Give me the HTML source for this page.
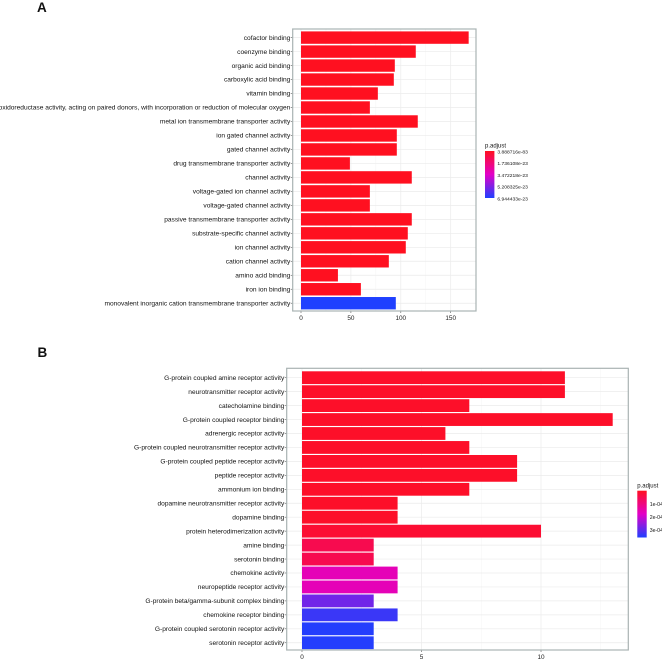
<!DOCTYPE html>
<html><head><meta charset="utf-8"><title>GO enrichment bar charts</title>
<style>
html,body{margin:0;padding:0;background:#fff;width:662px;height:659px;overflow:hidden}
svg{display:block;font-family:"Liberation Sans",Arial,sans-serif}
svg text{filter:blur(0.2px)}
</style></head>
<body>
<svg id="chart" width="662" height="659" viewBox="0 0 662 659" xmlns="http://www.w3.org/2000/svg"></svg>
<script>
const categoriesA = ["cofactor binding","coenzyme binding","organic acid binding","carboxylic acid binding","vitamin binding","oxidoreductase activity, acting on paired donors, with incorporation or reduction of molecular oxygen","metal ion transmembrane transporter activity","ion gated channel activity","gated channel activity","drug transmembrane transporter activity","channel activity","voltage-gated ion channel activity","voltage-gated channel activity","passive transmembrane transporter activity","substrate-specific channel activity","ion channel activity","cation channel activity","amino acid binding","iron ion binding","monovalent inorganic cation transmembrane transporter activity"];
const countsA = [168,115,94,93,77,69,117,96,96,49,111,69,69,111,107,105,88,37,60,95];
const padjustA = [0,0,0,0,0,0,0,0,0,0,0,0,0,0,0,0,0,0,0,6.94e-23];
const ticksA = [0,50,100,150];
const minorTicksA = [25,75,125];
const legendValuesA = [3.89e-83,1.736e-23,3.472e-23,5.208e-23,6.944e-23];
const legendLabelsA = ["3.888716e-83","1.736108e-23","3.472218e-23","5.208325e-23","6.944433e-23"];

const categoriesB = ["G-protein coupled amine receptor activity","neurotransmitter receptor activity","catecholamine binding","G-protein coupled receptor binding","adrenergic receptor activity","G-protein coupled neurotransmitter receptor activity","G-protein coupled peptide receptor activity","peptide receptor activity","ammonium ion binding","dopamine neurotransmitter receptor activity","dopamine binding","protein heterodimerization activity","amine binding","serotonin binding","chemokine activity","neuropeptide receptor activity","G-protein beta/gamma-subunit complex binding","chemokine receptor binding","G-protein coupled serotonin receptor activity","serotonin receptor activity"];
const countsB = [11,11,7,13,6,7,9,9,7,4,4,10,3,3,4,4,3,4,3,3];
const padjustB = [0.00001,0.00001,0.00001,0.00001,0.00001,0.00001,0.00001,0.00001,0.00001,0.00001,0.00001,0.00002,0.00005,0.00005,0.00016,0.00016,0.00028,0.00033,0.00035,0.00035];
const ticksB = [0,5,10];
const minorTicksB = [2.5,7.5,12.5];
const legendValuesB = [0.0001,0.0002,0.0003];
const legendLabelsB = ["1e-04","2e-04","3e-04"];

const svg = document.getElementById('chart');
const NS = 'http://www.w3.org/2000/svg';
function mk(tag, attrs, text){
  const e = document.createElementNS(NS, tag);
  for (const k in attrs) e.setAttribute(k, attrs[k]);
  if (text !== undefined) e.textContent = text;
  svg.appendChild(e);
  return e;
}
function fillFor(t){
  const a=[255,16,32], b=[226,0,200], c=[31,64,255];
  t=Math.max(0,Math.min(1,t));
  const p=t<0.5?a:b, q=t<0.5?b:c, u=t<0.5?t*2:(t-0.5)*2;
  return 'rgb('+p.map((v,i)=>Math.round(v+(q[i]-v)*u)).join(',')+')';
}
const defs = document.createElementNS(NS,'defs');
defs.innerHTML = '<linearGradient id="lg" x1="0" y1="0" x2="0" y2="1"><stop offset="0" stop-color="#ff1020"/><stop offset="0.5" stop-color="#e200c8"/><stop offset="1" stop-color="#1f40ff"/></linearGradient>';
svg.appendChild(defs);

function panel(o){
  const x = v => o.x0 + v*o.xs;
  const y = i => o.y0 + i*o.ys;
  const lo = o.pmin, hi = o.pmax;
  const bg = mk('rect',{x:o.l,y:o.t,width:o.r-o.l,height:o.b-o.t,fill:'#fff'});
  
  
  o.minor.forEach(v=>{
    const g = mk('line',{x1:x(v),x2:x(v),y1:o.t,y2:o.b,stroke:'#f4f4f4','stroke-width':0.5});
    
    
  });
  o.ticks.forEach(v=>{
    const g = mk('line',{x1:x(v),x2:x(v),y1:o.t,y2:o.b,stroke:'#ebebeb','stroke-width':0.7});
    
    
  });
  o.cats.forEach((c,i)=>{
    const g = mk('line',{x1:o.l,x2:o.r,y1:y(i),y2:y(i),stroke:'#ebebeb','stroke-width':0.7});
    
    
    const bar = mk('rect',{x:x(0),y:y(i)-o.bh/2,width:o.vals[i]*o.xs,height:o.bh,fill:fillFor((o.p[i]-lo)/(hi-lo))});
    
    
    const tick = mk('line',{x1:o.l-2,x2:o.l,y1:y(i),y2:y(i),stroke:'#555','stroke-width':0.6});
    
    
    const lab = mk('text',{x:o.l-2.4,y:y(i)+2.2,'text-anchor':'end','font-size':o.fs,fill:'#111'},c);
    
    
  });
  o.ticks.forEach(v=>{
    const t = mk('line',{x1:x(v),x2:x(v),y1:o.b,y2:o.b+2,stroke:'#555','stroke-width':0.6});
    
    
    const lab = mk('text',{x:x(v),y:o.b+8.8,'text-anchor':'middle','font-size':6.4,fill:'#222'},v);
    
    
  });
  const border = mk('rect',{x:o.l,y:o.t,width:o.r-o.l,height:o.b-o.t,fill:'none',stroke:'#a9b3b3','stroke-width':1.2});
  
  
  const letter = mk('text',{x:o.lx,y:o.ly,'font-size':13.5,'font-weight':'bold',fill:'#111'},o.letter);
  
  
  const lt = mk('text',{x:o.lgx,y:o.lgt-3.4,'font-size':6,fill:'#111'},'p.adjust');
  
  
  const lb = mk('rect',{x:o.lgx,y:o.lgt,width:9.4,height:o.lgb-o.lgt,fill:'url(#lg)'});
  
  
  o.legV.forEach((v,i)=>{
    const ly = o.lgt + (v-lo)/(hi-lo)*(o.lgb-o.lgt);
    const t = mk('text',{x:o.lgx+12.4,y:ly+o.ldy,'font-size':o.lfs,fill:'#111'},o.legL[i]);
    
    
  });
}
panel({id:'panel-a',letter:'A',lx:37,ly:12,l:292.7,r:476,t:29,b:311,x0:301,xs:0.998,y0:37.6,ys:13.98,bh:12.4,fs:6.6,lfs:4.95,ldy:2.4,
  cats:categoriesA,vals:countsA,p:padjustA,pmin:0,pmax:6.944433e-23,ticks:ticksA,minor:minorTicksA,
  lgx:485,lgt:151,lgb:198,legV:legendValuesA,legL:legendLabelsA});
panel({id:'panel-b',letter:'B',lx:37.5,ly:357,l:286.7,r:628.3,t:368.3,b:650,x0:302,xs:23.9,y0:377.7,ys:13.95,bh:12.8,fs:6.6,lfs:5.2,ldy:1.9,
  cats:categoriesB,vals:countsB,p:padjustB,pmin:0,pmax:0.000355,ticks:ticksB,minor:minorTicksB,
  lgx:637.3,lgt:490.7,lgb:537.5,legV:legendValuesB,legL:legendLabelsB});
</script>
</body></html>
